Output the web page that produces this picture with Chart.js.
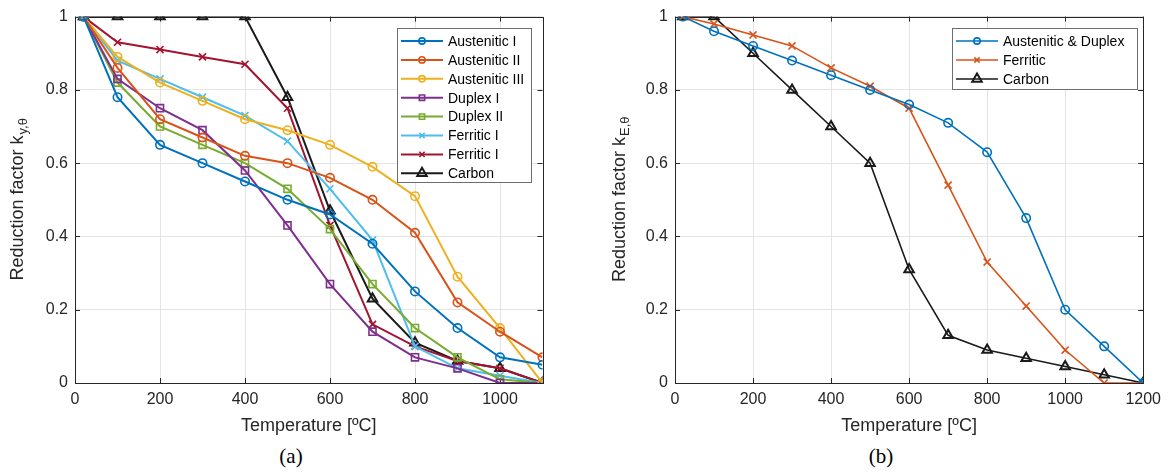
<!DOCTYPE html>
<html>
<head>
<meta charset="utf-8">
<script src="https://cdn.jsdelivr.net/npm/chart.js@4.4.0/dist/chart.umd.min.js"></script>
<style>
  body { margin: 0; background: #fff; width: 1168px; height: 472px; overflow: hidden; position: relative; }
  canvas { position: absolute; top: 0; }
  #chartA { left: 0; }
  #chartB { left: 600px; }
  .cap { position: absolute; top: 444px; width: 60px; text-align: center;
         font-family: "Liberation Serif", "Times New Roman", serif; font-size: 21px; color: #000; }
</style>
</head>
<body>
<canvas id="chartA" width="560" height="440"></canvas>
<canvas id="chartB" width="568" height="440"></canvas>
<div class="cap" style="left:261px">(a)</div>
<div class="cap" style="left:851px">(b)</div>
<script>
// (a) yield strength reduction factors
const tempA = [20, 100, 200, 300, 400, 500, 600, 700, 800, 900, 1000, 1100];
const austenitic1 = [1, 0.78, 0.65, 0.60, 0.55, 0.50, 0.46, 0.38, 0.25, 0.15, 0.07, 0.05];
const austenitic2 = [1, 0.86, 0.72, 0.67, 0.62, 0.60, 0.56, 0.50, 0.41, 0.22, 0.14, 0.07];
const austenitic3 = [1, 0.89, 0.82, 0.77, 0.72, 0.69, 0.65, 0.59, 0.51, 0.29, 0.15, 0];
const duplex1 = [1, 0.83, 0.75, 0.69, 0.58, 0.43, 0.27, 0.14, 0.07, 0.04, 0, 0];
const duplex2 = [1, 0.82, 0.70, 0.65, 0.60, 0.53, 0.42, 0.27, 0.15, 0.07, 0.01, 0];
const ferriticA = [1, 0.88, 0.83, 0.78, 0.73, 0.66, 0.53, 0.39, 0.10, 0.04, 0.02, 0];
const ferriticB = [1, 0.93, 0.91, 0.89, 0.87, 0.75, 0.43, 0.16, 0.10, 0.06, 0.04, 0];
const carbonA = [1, 1, 1, 1, 1, 0.78, 0.47, 0.23, 0.11, 0.06, 0.04, 0];
const labelsA = ['Austenitic I', 'Austenitic II', 'Austenitic III', 'Duplex I', 'Duplex II', 'Ferritic I', 'Ferritic I', 'Carbon'];
const xTicksA = [0, 200, 400, 600, 800, 1000];

// (b) elastic modulus reduction factors
const tempB = [20, 100, 200, 300, 400, 500, 600, 700, 800, 900, 1000, 1100, 1200];
const austDuplexE = [1, 0.96, 0.92, 0.88, 0.84, 0.80, 0.76, 0.71, 0.63, 0.45, 0.20, 0.10, 0];
const ferriticE = [1, 0.98, 0.95, 0.92, 0.86, 0.81, 0.75, 0.54, 0.33, 0.21, 0.09, 0, 0];
const carbonE = [1, 1, 0.90, 0.80, 0.70, 0.60, 0.31, 0.13, 0.09, 0.0675, 0.045, 0.0225, 0];
const labelsB = ['Austenitic & Duplex', 'Ferritic', 'Carbon'];
const xTicksB = [0, 200, 400, 600, 800, 1000, 1200];

const yTicks = [0, 0.2, 0.4, 0.6, 0.8, 1];

const FONT = '"Liberation Sans", Arial, sans-serif';
const AXC = '#262626';

function pts(xs, ys) {
  return xs.map((t, i) => ({ x: t, y: ys[i] }));
}

function mkSet(label, xs, ys, color, style, r, lw) {
  return {
    label: label,
    data: pts(xs, ys),
    borderColor: color,
    backgroundColor: color,
    borderWidth: lw,
    pointStyle: style,
    pointRadius: r,
    pointHoverRadius: r,
    pointBorderColor: color,
    pointBackgroundColor: 'rgba(0,0,0,0)',
    pointBorderWidth: style == 'triangle' ? 2 : 1.6,
    tension: 0
  };
}

function marker(ctx, style, x, y, r) {
  ctx.beginPath();
  if (style == 'circle') {
    ctx.arc(x, y, r, 0, Math.PI * 2);
  } else if (style == 'rect') {
    let s = r * Math.SQRT1_2;
    ctx.rect(x - s, y - s, 2 * s, 2 * s);
  } else if (style == 'crossRot') {
    let s = r * Math.SQRT1_2;
    ctx.moveTo(x - s, y - s); ctx.lineTo(x + s, y + s);
    ctx.moveTo(x - s, y + s); ctx.lineTo(x + s, y - s);
  } else if (style == 'triangle') {
    for (let k = 0; k < 3; k++) {
      let a = k * 2 * Math.PI / 3;
      let px = x + Math.sin(a) * r, py = y - Math.cos(a) * r;
      if (k == 0) ctx.moveTo(px, py); else ctx.lineTo(px, py);
    }
    ctx.closePath();
  }
  ctx.stroke();
}

// box, inward ticks, y title with subscript, legend in the axes
const frame = {
  id: 'frame',
  beforeDatasetsDraw(chart, args, opts) {
    const ctx = chart.ctx, a = chart.chartArea;
    const sx = chart.scales.x, sy = chart.scales.y;
    ctx.save();
    ctx.strokeStyle = AXC;
    ctx.lineWidth = 1;
    ctx.strokeRect(Math.round(a.left) + 0.5, Math.round(a.top) + 0.5,
      Math.round(a.right) - Math.round(a.left), Math.round(a.bottom) - Math.round(a.top));
    const t = 5;
    ctx.beginPath();
    sx.ticks.forEach(tk => {
      let px = Math.round(sx.getPixelForValue(tk.value)) + 0.5;
      ctx.moveTo(px, a.bottom); ctx.lineTo(px, a.bottom - t);
      ctx.moveTo(px, a.top); ctx.lineTo(px, a.top + t);
    });
    sy.ticks.forEach(tk => {
      let py = Math.round(sy.getPixelForValue(tk.value)) + 0.5;
      ctx.moveTo(a.left, py); ctx.lineTo(a.left + t, py);
      ctx.moveTo(a.right, py); ctx.lineTo(a.right - t, py);
    });
    ctx.stroke();

    // y title
    ctx.translate(opts.titleX, (a.top + a.bottom) / 2);
    ctx.rotate(-Math.PI / 2);
    ctx.fillStyle = AXC;
    ctx.textBaseline = 'middle';
    const main = 'Reduction factor k';
    ctx.font = '13px ' + FONT;
    const wSub = ctx.measureText(opts.sub).width;
    ctx.font = '18px ' + FONT;
    const wMain = ctx.measureText(main).width;
    let x0 = -(wMain + wSub) / 2;
    ctx.textAlign = 'left';
    ctx.fillText(main, x0, 0);
    ctx.font = '13px ' + FONT;
    ctx.fillText(opts.sub, x0 + wMain + 1, 5);
    ctx.restore();
  },
  afterDraw(chart, args, opts) {
    const ctx = chart.ctx, L = opts.legend;
    ctx.save();
    ctx.fillStyle = '#fff';
    ctx.fillRect(L.x, L.y, L.w, L.h);
    ctx.strokeStyle = '#6e6e6e';
    ctx.lineWidth = 1;
    ctx.strokeRect(L.x + 0.5, L.y + 0.5, L.w, L.h);
    chart.data.datasets.forEach((ds, i) => {
      let cy = L.row0 + i * L.step;
      ctx.strokeStyle = ds.borderColor;
      ctx.lineWidth = ds.borderWidth;
      ctx.beginPath();
      ctx.moveTo(L.x + 4, cy); ctx.lineTo(L.x + 46, cy);
      ctx.stroke();
      ctx.lineWidth = ds.pointBorderWidth;
      let r = ds.pointStyle == 'triangle' ? ds.pointRadius : ds.pointRadius * 0.75;
      marker(ctx, ds.pointStyle, L.x + 25, cy, r);
      ctx.fillStyle = '#000';
      ctx.font = '14px ' + FONT;
      ctx.textBaseline = 'middle';
      ctx.textAlign = 'left';
      ctx.fillText(ds.label, L.x + 51, cy + 1);
    });
    ctx.restore();
  }
};

function axes(xmax, xTicks) {
  return {
    x: {
      type: 'linear', min: 0, max: xmax,
      afterBuildTicks: s => { s.ticks = xTicks.map(v => ({ value: v })); },
      afterFit: s => { s.height = 57; },
      grid: { color: '#e4e4e4', drawTicks: false },
      border: { display: false },
      ticks: { color: AXC, padding: 7, font: { family: FONT, size: 16 },
               callback: v => String(v) },
      title: { display: true, text: 'Temperature [ºC]', color: AXC,
               font: { family: FONT, size: 18 }, padding: { top: 0, bottom: 3 } }
    },
    y: {
      type: 'linear', min: 0, max: 1,
      afterBuildTicks: s => { s.ticks = yTicks.map(v => ({ value: v })); },
      afterFit: s => { s.width = 75; },
      grid: { color: '#e4e4e4', drawTicks: false },
      border: { display: false },
      ticks: { color: AXC, padding: 7, font: { family: FONT, size: 16 },
               callback: v => String(+v.toFixed(2)) }
    }
  };
}

const setsA = [
  mkSet(labelsA[0], tempA, austenitic1, '#0072BD', 'circle', 4.2, 2),
  mkSet(labelsA[1], tempA, austenitic2, '#D95319', 'circle', 4.2, 2),
  mkSet(labelsA[2], tempA, austenitic3, '#EDB120', 'circle', 4.2, 2),
  mkSet(labelsA[3], tempA, duplex1, '#7E2F8E', 'rect', 5, 2),
  mkSet(labelsA[4], tempA, duplex2, '#77AC30', 'rect', 5, 2),
  mkSet(labelsA[5], tempA, ferriticA, '#4DBEEE', 'crossRot', 5, 2),
  mkSet(labelsA[6], tempA, ferriticB, '#A2142F', 'crossRot', 5, 2),
  mkSet(labelsA[7], tempA, carbonA, '#1a1a1a', 'triangle', 5.5, 2)
];

const setsB = [
  mkSet(labelsB[0], tempB, austDuplexE, '#0072BD', 'circle', 4.2, 1.6),
  mkSet(labelsB[1], tempB, ferriticE, '#D95319', 'crossRot', 5, 1.6),
  mkSet(labelsB[2], tempB, carbonE, '#1a1a1a', 'triangle', 5.5, 1.6)
];

new Chart(document.getElementById('chartA'), {
  type: 'line',
  data: { datasets: setsA },
  options: {
    responsive: false, animation: false, devicePixelRatio: 1,
    layout: { padding: { top: 16, right: 17.5, left: 0, bottom: 0 } },
    scales: axes(1100, xTicksA),
    plugins: {
      legend: { display: false }, tooltip: { enabled: false },
      frame: { titleX: 18, sub: 'y,θ',
               legend: { x: 397, y: 28, w: 134, h: 154, row0: 41, step: 18.9 } }
    }
  },
  plugins: [frame]
});

new Chart(document.getElementById('chartB'), {
  type: 'line',
  data: { datasets: setsB },
  options: {
    responsive: false, animation: false, devicePixelRatio: 1,
    layout: { padding: { top: 16, right: 24, left: 0, bottom: 0 } },
    scales: axes(1200, xTicksB),
    plugins: {
      legend: { display: false }, tooltip: { enabled: false },
      frame: { titleX: 20, sub: 'E,θ',
               legend: { x: 352, y: 28, w: 185, h: 61, row0: 41, step: 19 } }
    }
  },
  plugins: [frame]
});
</script>
</body>
</html>
